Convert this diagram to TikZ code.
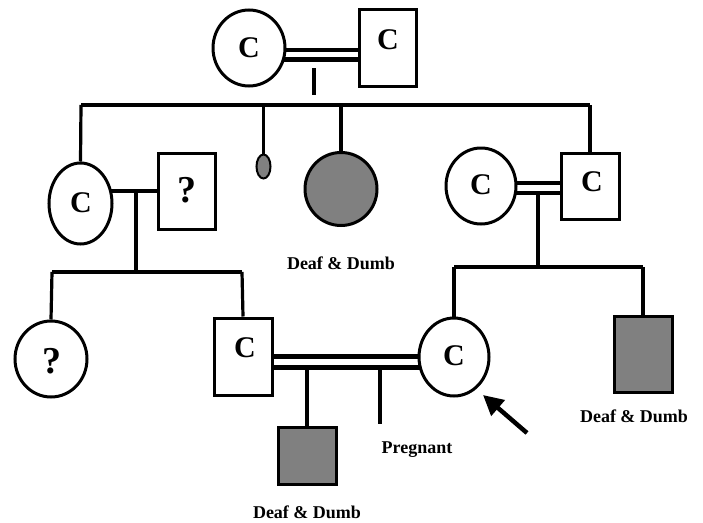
\documentclass[tikz,border=0pt]{standalone}
\usepackage{fontspec}
\setmainfont{Liberation Serif}
\usetikzlibrary{shapes.geometric,arrows.meta,backgrounds}
\definecolor{affgray}{RGB}{128,128,128}
\begin{document}
\begin{tikzpicture}[x=1pt,y=-1pt,
  ln/.style={line width=3.2pt},
  dbl/.style={line width=4.5pt},
  fem/.style={ellipse,draw,line width=3pt,fill=white,inner sep=0pt},
  mal/.style={rectangle,draw,line width=3pt,fill=white,inner sep=0pt},
  aff/.style={fill=affgray},
  sym/.style={font=\fontsize{30}{30}\selectfont\bfseries,inner sep=0pt},
  qm/.style={font=\fontsize{38}{38}\selectfont\bfseries,inner sep=0pt},
  lab/.style={font=\fontsize{18}{20}\selectfont\bfseries,inner sep=0pt}]
\useasboundingbox (0,0) rectangle (703,522);

% generation I
\node[fem,minimum width=72pt,minimum height=76pt] (I1) at (249,48) {};
\node[sym] (I1t) at (249,48) {C};
\node[mal,minimum width=57pt,minimum height=77pt] (I2) at (387.5,47.5) {};
\node[sym] (I2t) at (388,40) {C};

% generation II
\node[fem,minimum width=63pt,minimum height=81pt] (II1) at (80.5,203.5) {};
\node[sym] (II1t) at (81,203) {C};
\node[mal,minimum width=57pt,minimum height=76pt] (II2) at (186.5,191) {};
\node[qm] (II2t) at (187,190) {?};
\node[ellipse,draw,line width=2pt,fill=affgray,minimum width=14pt,minimum height=24pt,inner sep=0pt] (II5) at (263.5,166.5) {};
\node[fem,aff,minimum width=72pt,minimum height=73pt] (II6) at (341,189) {};
\node[lab] (II6l) at (341,263) {Deaf \& Dumb};
\node[fem,minimum width=70pt,minimum height=76pt] (II3) at (481,186) {};
\node[sym] (II3t) at (481,185) {C};
\node[mal,minimum width=58pt,minimum height=66pt] (II4) at (590,186) {};
\node[sym] (II4t) at (592,182) {C};

% generation III
\node[fem,minimum width=72pt,minimum height=76pt] (III1) at (51,359) {};
\node[qm] (III1t) at (52,361) {?};
\node[mal,minimum width=58pt,minimum height=77pt] (III2) at (243,356.5) {};
\node[sym] (III2t) at (245,348) {C};
\node[fem,minimum width=70pt,minimum height=78pt] (III3) at (454,357) {};
\node[sym] (III3t) at (454,356) {C};
\node[mal,aff,minimum width=58pt,minimum height=76pt] (III4) at (643,354) {};
\node[lab] (III4l) at (634,416) {Deaf \& Dumb};

% generation IV
\node[mal,aff,minimum width=58pt,minimum height=57pt] (IV1) at (307,455.5) {};
\node[lab] (IV1l) at (307,512) {Deaf \& Dumb};
\node[lab] (pgl) at (417,450) {Pregnant};

% helper coordinates
\coordinate (y1a) at (0,50);
\coordinate (y1b) at (0,59.5);
\coordinate (m1a) at (314,68);
\coordinate (m1b) at (314,95);
\coordinate (s1L) at (81,105);
\coordinate (s1R) at (590,105);
\coordinate (m2a) at (136,191);
\coordinate (m2b) at (136,272);
\coordinate (s2L) at (52,272);
\coordinate (s2R) at (242,272);
\coordinate (y3a) at (0,183);
\coordinate (y3b) at (0,193);
\coordinate (m3a) at (538,193);
\coordinate (m3b) at (538,267);
\coordinate (s3L) at (454,267);
\coordinate (s3R) at (643,267);
\coordinate (y4a) at (0,356.5);
\coordinate (y4b) at (0,367.5);
\coordinate (m4) at (307,367);
\coordinate (pg1) at (380,367);
\coordinate (pg2) at (380,424);
\coordinate (ar1) at (527,433);
\coordinate (ar2) at (483,395);

\begin{pgfonlayer}{background}
  % couple I
  \draw[dbl] (I1.center |- y1a) -- (I2.center |- y1a);
  \draw[dbl] (I1.center |- y1b) -- (I2.center |- y1b);
  \draw[ln] (m1a) -- (m1b);
  \draw[ln] (s1L) -- (s1R);
  \draw[ln] (s1L) -- (II1.north);
  \draw[ln] (II5.north |- s1L) -- (II5.north);
  \draw[ln] (II6.north |- s1L) -- (II6.north);
  \draw[ln] (s1R) -- (II4.north);
  % couple II left
  \draw[line width=4pt] (II1.center |- II2.center) -- (II2.center);
  \draw[ln] (m2a) -- (m2b);
  \draw[ln] (s2L) -- (s2R);
  \draw[ln] (s2L) -- (III1.north);
  \draw[ln] (s2R) -- (III2.north);
  % couple II right
  \draw[dbl] (II3.center |- y3a) -- (II4.center |- y3a);
  \draw[dbl] (II3.center |- y3b) -- (II4.center |- y3b);
  \draw[ln] (m3a) -- (m3b);
  \draw[ln] (s3L) -- (s3R);
  \draw[ln] (s3L) -- (III3.north);
  \draw[ln] (s3R) -- (III4.north);
  % couple III
  \draw[dbl] (III2.center |- y4a) -- (III3.center |- y4a);
  \draw[dbl] (III2.center |- y4b) -- (III3.center |- y4b);
  \draw[ln] (m4) -- (IV1.north);
  \draw[ln] (pg1) -- (pg2);
\end{pgfonlayer}

% proband arrow
\draw[line width=4.5pt,-{Triangle[length=20pt,width=20pt]}] (ar1) -- (ar2);
\end{tikzpicture}
\end{document}
